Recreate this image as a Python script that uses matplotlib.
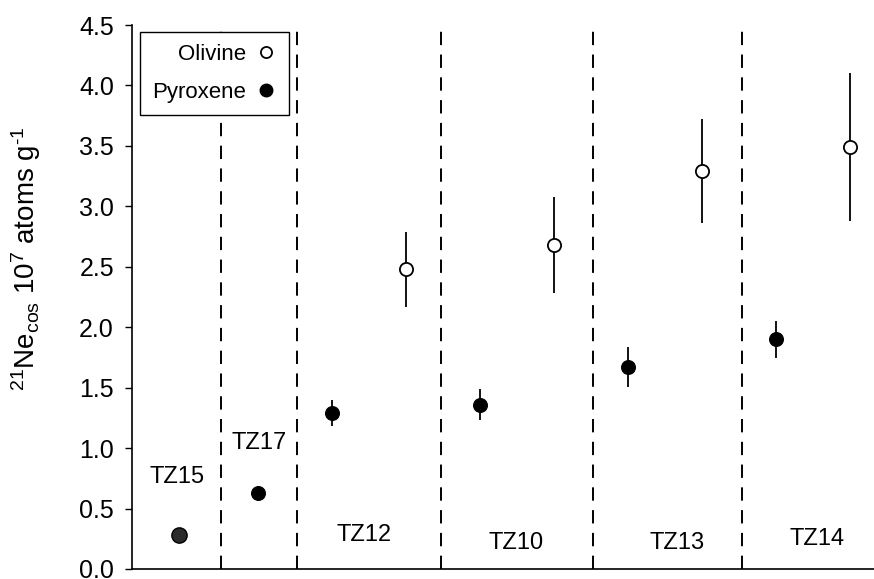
import matplotlib
matplotlib.use("Agg")
import matplotlib.pyplot as plt
from matplotlib.lines import Line2D

plt.rcParams['font.family'] = ['Liberation Sans', 'DejaVu Sans']
plt.rcParams['mathtext.fontset'] = 'custom'
plt.rcParams['mathtext.rm'] = 'Liberation Sans'
plt.rcParams['mathtext.it'] = 'Liberation Sans:italic'
plt.rcParams['mathtext.bf'] = 'Liberation Sans:bold'
plt.rcParams['mathtext.default'] = 'regular'
plt.rcParams['lines.scale_dashes'] = False

# samples, left to right
samples = ["TZ15", "TZ17", "TZ12", "TZ10", "TZ13", "TZ14"]

# pyroxene (filled)
pyx_x = [0.93, 2, 3, 5, 7, 9]
pyx_val = [0.28, 0.63, 1.29, 1.36, 1.67, 1.90]
pyx_err = [0, 0, 0.11, 0.125, 0.165, 0.155]

# olivine (open)
ol_x = [4, 6, 8, 10]
ol_val = [2.48, 2.68, 3.29, 3.49]
ol_err = [0.31, 0.40, 0.43, 0.615]

# group separators
dividers = [1.5, 2.52, 4.47, 6.52, 8.54]

# sample label positions
label_x = [0.9, 2.01, 3.43, 5.49, 7.66, 9.55]
label_y = [0.76, 1.04, 0.28, 0.215, 0.215, 0.245]

fig = plt.figure(figsize=(8.74, 5.79), dpi=100)
ax = fig.add_axes([0.151, 0.0173, 0.849, 0.9395])

for d in dividers:
    ax.axvline(d, color="black", lw=1.4, dashes=(9.6, 6.8), zorder=1)

# TZ15 is drawn a bit larger and grey-ish
ax.plot(pyx_x[0], pyx_val[0], "o", ms=11, mfc="#2b2b2b", mec="black", mew=1, zorder=3, clip_on=False)
ax.errorbar(pyx_x[1:], pyx_val[1:], yerr=pyx_err[1:], fmt="o", ms=9.8, mfc="black", mec="black",
            ecolor="black", elinewidth=1.3, capsize=0, zorder=3)
ax.errorbar(ol_x, ol_val, yerr=ol_err, fmt="o", ms=9.5, mfc="white", mec="black", mew=1.3,
            ecolor="black", elinewidth=1.3, capsize=0, zorder=3, clip_on=False)

for s, lx, ly in zip(samples, label_x, label_y):
    ax.text(lx, ly, s, ha="center", va="center", fontsize=17)

ax.set_xlim(0.292, 10.325)
ax.set_ylim(0, 4.5)
ax.set_yticks([0, 0.5, 1, 1.5, 2, 2.5, 3, 3.5, 4, 4.5])
ax.set_yticklabels(["0.0", "0.5", "1.0", "1.5", "2.0", "2.5", "3.0", "3.5", "4.0", "4.5"])
ax.set_xticks([])
ax.tick_params(axis="y", direction="out", length=5, width=1, labelsize=18, pad=8)
ax.spines["top"].set_visible(False)
ax.spines["right"].set_visible(False)
ax.spines["left"].set_linewidth(1.2)
ax.spines["bottom"].set_linewidth(1.2)

ax.set_ylabel("$^{21}$Ne$_{cos}$ 10$^{7}$ atoms g$^{\u20101}$", fontsize=20)
ax.yaxis.set_label_coords(-0.12, 0.57)

handles = [
    Line2D([], [], ls="none", marker="o", ms=8, mfc="white", mec="black", mew=1.3),
    Line2D([], [], ls="none", marker="o", ms=9, mfc="black", mec="black"),
]
leg = ax.legend(handles, ["Olivine", "Pyroxene"], loc="upper left",
                bbox_to_anchor=(140 / 874, 1 - 32 / 579), bbox_transform=fig.transFigure,
                borderaxespad=0, markerfirst=False, fontsize=16, frameon=True, fancybox=False,
                framealpha=1, handlelength=1.0, handletextpad=0.4, labelspacing=0.75, borderpad=0.55)
leg.get_frame().set_edgecolor("black")
leg.get_frame().set_linewidth(1.0)
leg.set_zorder(5)
for t in leg.get_texts():
    t.set_ha("right")

fig.savefig("out.png", dpi=100)
